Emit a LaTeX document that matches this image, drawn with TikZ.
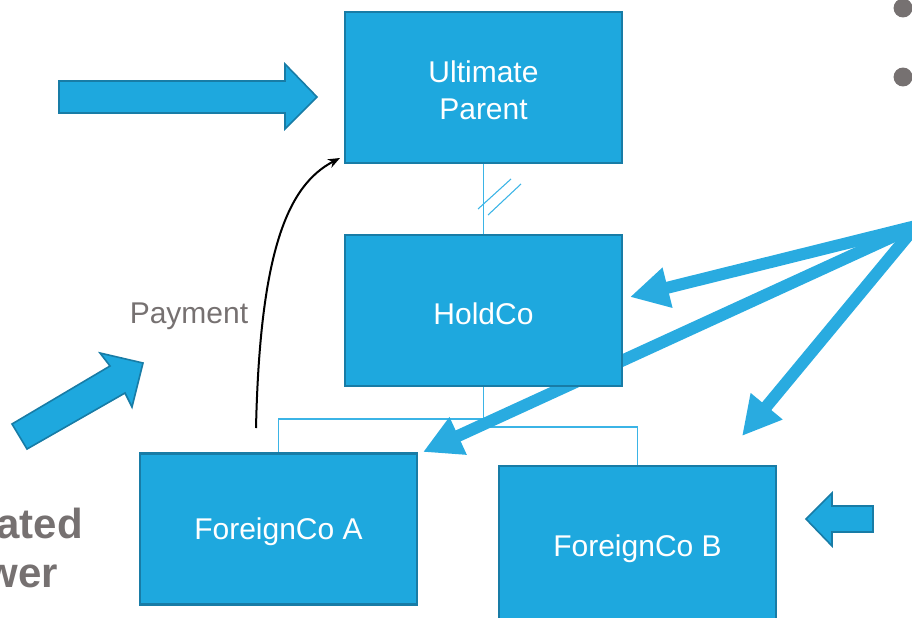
\documentclass[tikz,border=0pt]{standalone}
\usepackage{fontspec}
\setmainfont{Liberation Sans}
\usetikzlibrary{arrows.meta,backgrounds}
\definecolor{boxblue}{RGB}{30,168,222}
\definecolor{boxedge}{RGB}{24,124,166}
\definecolor{linkblue}{RGB}{59,180,230}
\definecolor{fatblue}{RGB}{41,171,224}
\definecolor{txtgray}{RGB}{118,113,113}
\begin{document}
\begin{tikzpicture}[x=0.75pt,y=-0.75pt,
  entity/.style={draw=boxedge, line width=1.8pt, fill=boxblue,
    minimum width=207.75pt, minimum height=113.25pt, inner sep=0pt, outer sep=0pt},
  boxtext/.style={text=white, inner sep=0pt, font=\fontsize{22.5}{27.75}\selectfont, align=center},
  link/.style={draw=linkblue, line width=1.1pt},
  fat/.style={draw=fatblue, line width=9pt, -{Triangle[length=29pt,width=29pt]}},
  block/.style={fill=boxblue, draw=boxedge, line width=1.2pt, line join=miter},
  graytext/.style={text=txtgray}]
\useasboundingbox (0,0) rectangle (912,617);

% entity boxes
\node[entity] (up) at (483.5,87.5) {};
\node[entity] (hold) at (483.5,310.5) {};
\node[entity] (fa) at (278.5,529) {};
\node[entity, minimum height=120pt] (fb) at (637.5,546) {};
\node[boxtext] (upt) at ([yshift=-2pt]up.center) {Ultimate\\Parent};
\node[boxtext] (holdt) at ([yshift=-2.2pt]hold.center) {HoldCo};
\node[boxtext] (fat) at ([yshift=-2.2pt]fa.center) {ForeignCo A};
\node[boxtext] (fbt) at ([yshift=-2.2pt]fb.center) {ForeignCo B};

% background: connectors and the arrow that passes under HoldCo
\coordinate (src) at (916,226);
\coordinate (tipH) at (630,297);
\coordinate (tipA) at (423,452);
\coordinate (tipB) at (742,436);
\begin{scope}[on background layer]
  \draw[link] (up.south) -- (hold.north);
  \draw[link, line width=0.8pt] (478,209) -- (511,179);
  \draw[link, line width=0.8pt] (488,215) -- (521,184);
  \draw[link] (hold.south) -- ++(0,41) -| (fb.north);
  \draw[link] (hold.south) ++(0,33) -| (fa.north);
  \draw[fat] (src) -- (tipA);
\end{scope}

% fat pointer arrows
\draw[fat] (src) -- (tipH);
\draw[fat] (src) -- (tipB);

% payment
\node[graytext, anchor=base, font=\fontsize{22.5}{27}\selectfont] (pay) at (189,323) {Payment};
\coordinate (pstart) at (256,428);
\coordinate (pend) at (340,158);
\draw[black, line width=1.5pt, -{Stealth[length=9pt,width=7pt]}]
  (pstart) .. controls (260,250) and (288,185) .. (pend);

% block arrows
\draw[block] (59,81) -- (285,81) -- (285,64) -- (317,97) -- (285,129) -- (285,113) -- (59,113) -- cycle;
\draw[block] (12,424) -- (110,366) -- (100,353) -- (143,363) -- (132,407) -- (125,393) -- (27,449) -- cycle;
\draw[block] (873,506) -- (832,506) -- (832,493) -- (806,519) -- (832,546) -- (832,532) -- (873,532) -- cycle;

% bullets
\fill[txtgray] (903,8) circle (7.1pt);
\fill[txtgray] (903,77) circle (7.1pt);

% partial bold text (cut at the left edge, as in the reference)
\node[graytext, anchor=base east, inner sep=0pt, font=\fontsize{31.5}{36}\selectfont\bfseries] (t1) at (83,538) {ated};
\node[graytext, anchor=base east, inner sep=0pt, font=\fontsize{31.5}{36}\selectfont\bfseries] (t2) at (58,587) {wer};
\end{tikzpicture}
\end{document}
